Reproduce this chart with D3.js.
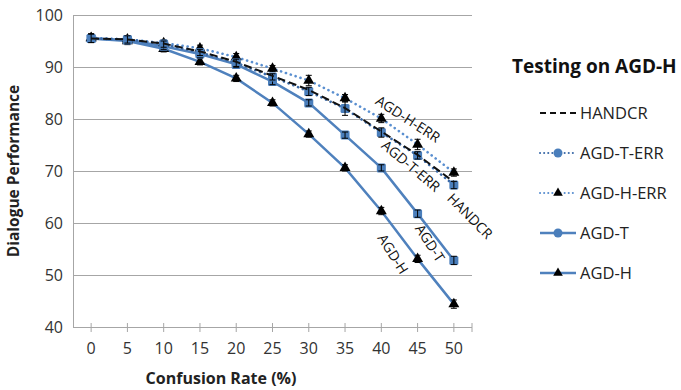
<!DOCTYPE html>
<html>
<head>
<meta charset="utf-8">
<script src="https://cdn.jsdelivr.net/npm/d3@7"></script>
<style>
  body { margin: 0; background: #fff; }
  text { font-family: "Open Sans", "Noto Sans", sans-serif; }
</style>
</head>
<body>
<div class="c-chart"></div>
<script>
var rates = [0, 5, 10, 15, 20, 25, 30, 35, 40, 45, 50];

var handcr   = [95.5, 95.3, 94.5, 93.0, 91.0, 88.3, 85.6, 82.1, 77.6, 73.1, 67.9];
var agdTErr  = [95.5, 95.3, 94.4, 92.8, 90.8, 88.1, 85.3, 82.0, 77.4, 73.0, 67.3];
var agdHErr  = [95.6, 95.3, 94.6, 93.6, 91.9, 89.7, 87.4, 84.0, 80.1, 75.1, 69.7];
var agdT     = [95.5, 95.2, 94.0, 92.5, 90.5, 87.2, 83.1, 76.9, 70.6, 61.8, 52.8];
var agdH     = [95.5, 95.0, 93.5, 91.0, 87.8, 83.1, 77.1, 70.6, 62.3, 53.1, 44.4];

var errTErr  = [0.8, 0.7, 0.6, 0.6, 0.7, 0.6, 0.8, 1.3, 0.9, 0.7, 0.7];
var errHErr  = [0.8, 0.7, 0.6, 0.6, 0.7, 0.6, 1.0, 0.7, 0.8, 1.0, 0.7];
var errT     = [0.8, 0.7, 0.6, 0.6, 0.6, 0.6, 0.6, 0.6, 0.6, 0.7, 0.8];
var errH     = [0.8, 0.7, 0.6, 0.6, 0.6, 0.6, 0.6, 0.6, 0.7, 0.7, 0.8];

var seriesNames = ["HANDCR", "AGD-T-ERR", "AGD-H-ERR", "AGD-T", "AGD-H"];
var yTicks = [40, 50, 60, 70, 80, 90, 100];

var blue = "#4f81bd";
var width = 681, height = 390;

var svg = d3.select(".c-chart").append("svg")
    .attr("width", width)
    .attr("height", height);

var x = d3.scalePoint().domain(rates).range([73, 472]).padding(0.5);
var y = d3.scaleLinear().domain([40, 100]).range([327, 15]);

// gridlines
svg.append("g")
    .attr("transform", "translate(73,0)")
    .call(d3.axisLeft(y).tickValues(yTicks).tickSize(-399).tickFormat(""))
    .call(function (g) {
        g.select(".domain").remove();
        g.selectAll("line").attr("stroke", "#a6a6a6").attr("stroke-width", 1);
    });

// y axis
svg.append("line")
    .attr("x1", 73.5).attr("x2", 73.5)
    .attr("y1", y(100)).attr("y2", y(40))
    .attr("stroke", "#a6a6a6");

svg.append("g").selectAll("text")
    .data(yTicks)
    .enter().append("text")
    .attr("x", 63)
    .attr("y", function (d) { return y(d); })
    .attr("dy", "0.36em")
    .attr("text-anchor", "end")
    .attr("font-size", 16)
    .attr("fill", "#333")
    .text(function (d) { return d; });

// x axis
svg.append("line")
    .attr("x1", 73).attr("x2", 472)
    .attr("y1", y(40) + 0.5).attr("y2", y(40) + 0.5)
    .attr("stroke", "#a6a6a6");

svg.append("g").selectAll("line")
    .data(rates.map(function (d) { return x(d); }).concat([472]))
    .enter().append("line")
    .attr("x1", function (d) { return d; })
    .attr("x2", function (d) { return d; })
    .attr("y1", y(40) - 4)
    .attr("y2", y(40) + 5)
    .attr("stroke", "#a6a6a6");

svg.append("g").selectAll("text")
    .data(rates)
    .enter().append("text")
    .attr("x", function (d) { return x(d); })
    .attr("y", 354)
    .attr("text-anchor", "middle")
    .attr("font-size", 16)
    .attr("fill", "#333")
    .text(function (d) { return d; });

// axis titles
svg.append("text")
    .attr("x", 221).attr("y", 384)
    .attr("text-anchor", "middle")
    .attr("font-size", 16)
    .attr("font-weight", "bold")
    .attr("fill", "#222")
    .text("Confusion Rate (%)");

svg.append("text")
    .attr("transform", "translate(19,171) rotate(-90)")
    .attr("text-anchor", "middle")
    .attr("font-size", 15.5)
    .attr("font-weight", "bold")
    .attr("fill", "#222")
    .text("Dialogue Performance");

var series = [
    { name: "AGD-H", values: agdH, err: errH, color: blue, dash: null, width: 2.5, marker: "triangle" },
    { name: "AGD-T", values: agdT, err: errT, color: blue, dash: null, width: 2.5, marker: "square" },
    { name: "AGD-H-ERR", values: agdHErr, err: errHErr, color: "#5a8fd0", dash: "0.1,5", width: 2.6, marker: "triangle" },
    { name: "AGD-T-ERR", values: agdTErr, err: errTErr, color: "#3b6aa8", dash: "0.1,5", width: 2.6, marker: "square" },
    { name: "HANDCR", values: handcr, err: null, color: "#111", dash: "8,4", width: 2, marker: null }
];

var line = d3.line()
    .x(function (d) { return x(d.rate); })
    .y(function (d) { return y(d.value); });

function points(s) {
    return rates.map(function (r, i) {
        return { rate: r, value: s.values[i], err: s.err ? s.err[i] : 0 };
    });
}

var triangle = d3.symbol().type(d3.symbolTriangle).size(52);

series.forEach(function (s) {
    var g = svg.append("g");
    g.append("path")
        .datum(points(s))
        .attr("d", line)
        .attr("fill", "none")
        .attr("stroke", s.color)
        .attr("stroke-width", s.width)
        .attr("stroke-linecap", s.dash && s.dash.indexOf("0.1") === 0 ? "round" : "butt")
        .attr("stroke-dasharray", s.dash);

    if (!s.marker) return;

    var pts = g.selectAll(".pt").data(points(s)).enter().append("g")
        .attr("transform", function (d) { return "translate(" + x(d.rate) + "," + y(d.value) + ")"; });

    if (s.marker === "triangle") {
        pts.append("path").attr("d", triangle).attr("fill", "#000");
    } else {
        pts.append("rect")
            .attr("x", -4.5).attr("y", -4.5)
            .attr("width", 9).attr("height", 9)
            .attr("rx", 1.5)
            .attr("fill", "#4a7ebb");
    }

    // error bars
    pts.append("path")
        .attr("d", function (d) {
            var h = y(d.value - d.err) - y(d.value);
            return "M0," + (-h) + "V" + h + "M-3," + (-h) + "H3M-3," + h + "H3";
        })
        .attr("stroke", "#000")
        .attr("stroke-width", 1)
        .attr("fill", "none");
});

// line labels
var lineLabels = [
    { text: "AGD-H-ERR", x: 408, y: 119, angle: 33 },
    { text: "AGD-T-ERR", x: 411, y: 166, angle: 40 },
    { text: "HANDCR", x: 470, y: 216, angle: 45 },
    { text: "AGD-T", x: 430, y: 243, angle: 57 },
    { text: "AGD-H", x: 393, y: 254, angle: 58 }
];

svg.append("g").selectAll("text")
    .data(lineLabels)
    .enter().append("text")
    .attr("transform", function (d) { return "translate(" + d.x + "," + d.y + ") rotate(" + d.angle + ")"; })
    .attr("text-anchor", "middle")
    .attr("dy", "0.36em")
    .attr("font-size", 14)
    .attr("fill", "#111")
    .text(function (d) { return d.text; });

// legend
svg.append("text")
    .attr("x", 512).attr("y", 73)
    .attr("font-size", 19)
    .attr("font-weight", "bold")
    .attr("fill", "#111")
    .text("Testing on AGD-H");

var legendItems = [
    { name: "HANDCR", color: "#111", dash: "6,4", marker: null },
    { name: "AGD-T-ERR", color: "#3b6aa8", dash: "0.1,4", marker: "circle" },
    { name: "AGD-H-ERR", color: "#5a8fd0", dash: "0.1,4", marker: "triangle" },
    { name: "AGD-T", color: blue, dash: null, marker: "circle" },
    { name: "AGD-H", color: blue, dash: null, marker: "triangle" }
];

var lg = svg.append("g").selectAll("g")
    .data(legendItems)
    .enter().append("g")
    .attr("transform", function (d, i) { return "translate(540," + (113 + i * 40) + ")"; });

lg.append("line")
    .attr("x1", 0).attr("x2", 36)
    .attr("stroke", function (d) { return d.color; })
    .attr("stroke-width", function (d) { return d.dash ? 2 : 2.5; })
    .attr("stroke-linecap", function (d) { return d.dash && d.dash.indexOf("0.1") === 0 ? "round" : "butt"; })
    .attr("stroke-dasharray", function (d) { return d.dash; });

lg.filter(function (d) { return d.marker === "circle"; })
    .append("circle")
    .attr("cx", 18).attr("r", 4.5)
    .attr("fill", "#4a7ebb");

lg.filter(function (d) { return d.marker === "triangle"; })
    .append("path")
    .attr("transform", "translate(18,0)")
    .attr("d", d3.symbol().type(d3.symbolTriangle).size(40))
    .attr("fill", "#000");

lg.append("text")
    .attr("x", 40)
    .attr("dy", "0.36em")
    .attr("font-size", 16.5)
    .attr("fill", "#222")
    .text(function (d) { return d.name; });
</script>
</body>
</html>
